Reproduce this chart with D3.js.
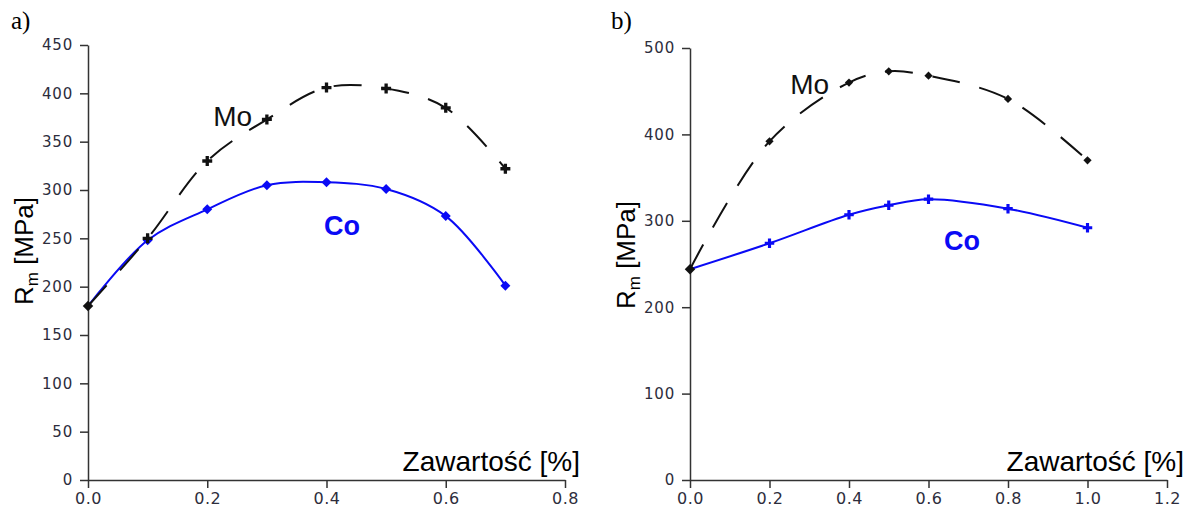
<!DOCTYPE html>
<html>
<head>
<meta charset="utf-8">
<script src="https://cdn.jsdelivr.net/npm/d3@7"></script>
<style>
  body { margin: 0; background: #fff; }
  svg { display: block; }
  .tick text { font-family: "DejaVu Sans", sans-serif; fill: #2d2d3c; }
  .y-axis .tick text { font-size: 15px; letter-spacing: 0.8px; }
  .x-axis .tick text { font-size: 16px; letter-spacing: 0.6px; }
  .domain, .tick line { stroke: #333; stroke-width: 1.5px; }
</style>
</head>
<body>
<svg id="chart" width="1192" height="518"></svg>
<script>
// panel a) - content 0..0.7 %
var aContent = [0, 0.1, 0.2, 0.3, 0.4, 0.5, 0.6, 0.7];
var aMo = [180, 250, 330, 373, 406, 405, 385, 322];
var aCo = [180, 248, 280, 305, 308, 301, 273, 201];
var aXTicks = [0, 0.2, 0.4, 0.6, 0.8];
var aYTicks = [0, 50, 100, 150, 200, 250, 300, 350, 400, 450];

// panel b) - content 0..1.0 %
var bContent = [0, 0.2, 0.4, 0.5, 0.6, 0.8, 1.0];
var bMo = [244, 392, 460, 473, 468, 441, 370];
var bCo = [244, 274, 307, 318, 325, 314, 292];
var bXTicks = [0, 0.2, 0.4, 0.6, 0.8, 1.0, 1.2];
var bYTicks = [0, 100, 200, 300, 400, 500];

var svg = d3.select("#chart");

var BLUE = "#0a0af5";
var BLACK = "#111";

function diamond(size) {
  return d3.symbol().type(d3.symbolSquare).size(size)();
}
function plus(size) {
  return d3.symbol().type(d3.symbolCross).size(size)();
}

function drawPanel(p) {
  var x = d3.scaleLinear().domain([0, d3.max(p.xTicks)]).range(p.xRange);
  var y = d3.scaleLinear().domain([0, d3.max(p.yTicks)]).range(p.yRange);
  var g = svg.append("g");

  // axes
  var xAxis = g.append("g")
    .attr("class", "x-axis")
    .attr("transform", "translate(0," + p.yRange[0] + ")")
    .call(d3.axisBottom(x).tickValues(p.xTicks).tickFormat(d3.format(".1f")).tickSize(8).tickSizeOuter(0).tickPadding(5));
  var yAxis = g.append("g")
    .attr("class", "y-axis")
    .attr("transform", "translate(" + p.xRange[0] + ",0)")
    .call(d3.axisLeft(y).tickValues(p.yTicks).tickFormat(d3.format("d")).tickSize(8).tickSizeOuter(0).tickPadding(7));
  xAxis.attr("font-family", null).attr("font-size", null);
  yAxis.attr("font-family", null).attr("font-size", null);

  var moPts = p.content.map(function(c, i) { return [c, p.mo[i]]; });
  var coPts = p.content.map(function(c, i) { return [c, p.co[i]]; });

  var line = d3.line()
    .x(function(d) { return x(d[0]); })
    .y(function(d) { return y(d[1]); })
    .curve(d3.curveCatmullRom.alpha(0.5));

  g.append("path")
    .attr("d", line(coPts))
    .attr("fill", "none")
    .attr("stroke", BLUE)
    .attr("stroke-width", 2);

  g.append("path")
    .attr("d", line(moPts))
    .attr("fill", "none")
    .attr("stroke", BLACK)
    .attr("stroke-width", 2)
    .attr("stroke-dasharray", "28,20");

  // markers (first point is shared and drawn black)
  g.selectAll(".co-mark")
    .data(coPts.slice(1))
    .enter()
    .append("path")
    .attr("transform", function(d) {
      return "translate(" + x(d[0]) + "," + y(d[1]) + ")" + (p.coMarker == "diamond" ? " rotate(45)" : "");
    })
    .attr("d", p.coMarker == "diamond" ? diamond(p.coSize) : plus(p.coSize))
    .attr("fill", BLUE);

  g.selectAll(".mo-mark")
    .data(moPts.slice(1))
    .enter()
    .append("path")
    .attr("transform", function(d) {
      return "translate(" + x(d[0]) + "," + y(d[1]) + ")" + (p.moMarker == "diamond" ? " rotate(45)" : "");
    })
    .attr("d", p.moMarker == "diamond" ? diamond(p.moSize) : plus(p.moSize))
    .attr("fill", BLACK);

  g.append("path")
    .attr("transform", "translate(" + x(moPts[0][0]) + "," + y(moPts[0][1]) + ") rotate(45)")
    .attr("d", diamond(55))
    .attr("fill", BLACK);

  // series labels
  g.append("text")
    .attr("x", x(p.moText[0]))
    .attr("y", y(p.moText[1]))
    .attr("font-family", "Liberation Sans, Arial, sans-serif")
    .attr("font-size", 28)
    .attr("fill", BLACK)
    .text("Mo");
  g.append("text")
    .attr("x", x(p.coText[0]))
    .attr("y", y(p.coText[1]))
    .attr("font-family", "Liberation Sans, Arial, sans-serif")
    .attr("font-size", 27)
    .attr("font-weight", "bold")
    .attr("fill", BLUE)
    .text("Co");

  // axis titles
  g.append("text")
    .attr("x", p.xTitleRight)
    .attr("y", 471)
    .attr("text-anchor", "end")
    .attr("font-family", "Liberation Sans, Arial, sans-serif")
    .attr("font-size", 28)
    .attr("fill", "#000")
    .text("Zawartość [%]");

  var yt = g.append("text")
    .attr("transform", "translate(" + p.yTitleX + "," + p.yTitleY + ") rotate(-90)")
    .attr("text-anchor", "middle")
    .attr("font-family", "Liberation Sans, Arial, sans-serif")
    .attr("font-size", 26)
    .attr("fill", "#000");
  yt.append("tspan").text("R");
  yt.append("tspan").attr("font-size", 17).attr("dy", 5).text("m");
  yt.append("tspan").attr("dy", -5).text(" [MPa]");

  // panel letter
  g.append("text")
    .attr("x", p.letterX)
    .attr("y", 29)
    .attr("font-family", "Liberation Serif, Times New Roman, serif")
    .attr("font-size", 25)
    .attr("fill", "#000")
    .text(p.letter);
}

drawPanel({
  letter: "a)", letterX: 11,
  content: aContent, mo: aMo, co: aCo,
  xTicks: aXTicks, yTicks: aYTicks,
  xRange: [88, 565], yRange: [480, 45],
  moMarker: "plus", moSize: 55, coMarker: "diamond", coSize: 50,
  moText: [0.21, 366], coText: [0.396, 253],
  xTitleRight: 580, yTitleX: 33, yTitleY: 251
});

drawPanel({
  letter: "b)", letterX: 611,
  content: bContent, mo: bMo, co: bCo,
  xTicks: bXTicks, yTicks: bYTicks,
  xRange: [690, 1167], yRange: [480, 48],
  moMarker: "diamond", moSize: 34, coMarker: "plus", coSize: 50,
  moText: [0.252, 447], coText: [0.639, 266],
  xTitleRight: 1184, yTitleX: 635, yTitleY: 255
});
</script>
</body>
</html>
